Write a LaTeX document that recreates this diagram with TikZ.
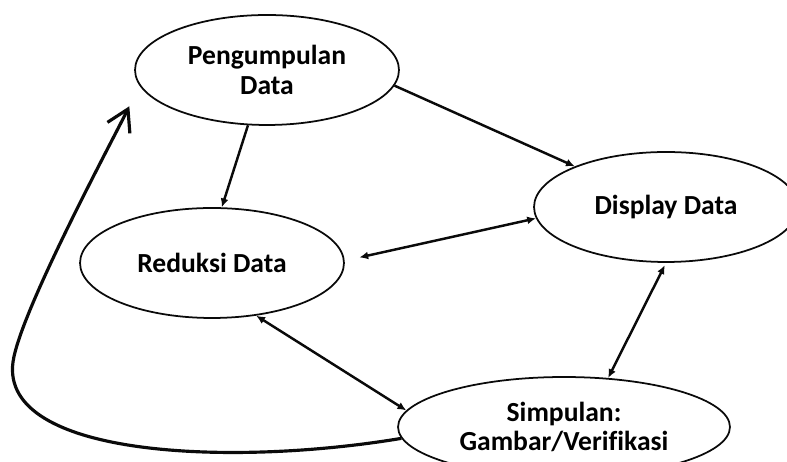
\documentclass[tikz,border=0pt]{standalone}
\usepackage{fontspec}
\setmainfont{Carlito}[Ligatures=NoCommon]
\usetikzlibrary{shapes.geometric, arrows.meta}
\definecolor{lineBlack}{RGB}{10, 10, 10}

\begin{document}
\begin{tikzpicture}[x=0.02cm, y=0.02cm,
    stageOval/.style={draw=lineBlack, ellipse, line width=1pt, inner sep=0pt,
      minimum width=5.28cm, minimum height=2.2cm, align=center,
      font=\fontsize{15.7}{16.6}\selectfont\bfseries},
    flowArrow/.style={lineBlack, line width=1.4pt, -{Latex[length=5pt,width=4.5pt]}},
    twoWay/.style={lineBlack, line width=1.4pt, {Latex[length=5pt,width=4.5pt]}-{Latex[length=5pt,width=4.5pt]}}]
  \useasboundingbox (0,0) rectangle (787,462);
  \clip (0,0) rectangle (787,462);
  \node[stageOval] (peng) at (267,392) {Pengumpulan\\Data};
  \node[stageOval] (disp) at (666,255) {Display Data};
  \node[stageOval] (red) at (212,199) {Reduksi Data};
  \node[stageOval, minimum width=6.64cm, minimum height=2cm] (simp) at (564,35) {Simpulan:\\Gambar/Verifikasi};
  \draw[flowArrow] (peng.251) -- (red.80);
  \draw[flowArrow] (peng.-7) -- (disp.156);
  \draw[twoWay, shorten >=0.3cm] (disp.185) -- (red.1);
  \draw[twoWay, shorten <=1.5pt] (disp.-90) -- (simp.48);
  \draw[twoWay] (red.-50) -- (simp.174);
  \draw[lineBlack, line width=1.8pt, -{Straight Barb[length=0.42cm,width=0.5cm]}, shorten >=0.46cm]
    (simp.184) .. controls (230,-5) and (0,5) .. (13,100)
    .. controls (20,150) and (112.7,322) .. (peng.187);
\end{tikzpicture}
\end{document}
